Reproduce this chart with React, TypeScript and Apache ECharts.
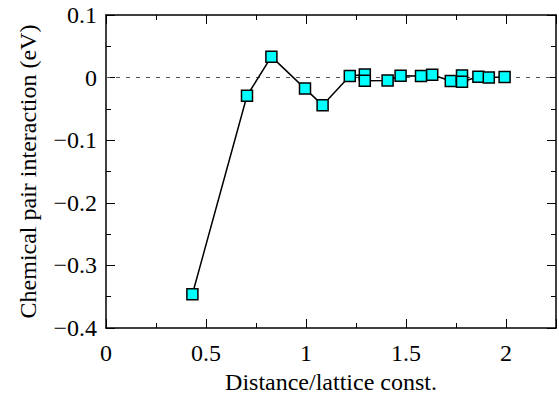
import React, { useEffect, useRef } from "react";
import * as echarts from "echarts";

const distances = [0.432, 0.705, 0.827, 0.995, 1.083, 1.219, 1.294, 1.294, 1.408, 1.473, 1.575, 1.631, 1.724, 1.78, 1.78, 1.862, 1.914, 1.993];
const interactions = [-0.346, -0.029, 0.0335, -0.0176, -0.044, 0.0024, 0.005, -0.005, -0.0045, 0.003, 0.0024, 0.0046, -0.0055, 0.0035, -0.0065, 0.0013, 0.0, 0.001];
const xTitle = "Distance/lattice const.";
const yTitle = "Chemical pair interaction (eV)";

const FONT = "'Liberation Serif', 'DejaVu Serif', serif";
const FS = 24;

export default function App() {
  const ref = useRef<HTMLDivElement>(null);
  useEffect(() => {
    if (!ref.current) return;
    const chart = echarts.init(ref.current, undefined, { renderer: "svg" });
    const tickCommon = () => ({
      axisLine: { show: true, onZero: false, lineStyle: { color: "#000", width: 1.5 } },
      axisTick: { show: true, inside: true, length: 9, lineStyle: { color: "#000", width: 1 } },
      minorTick: { show: true, splitNumber: 2, length: 5, lineStyle: { color: "#000", width: 1 } },
      splitLine: { show: false },
    });
    chart.setOption({
      animation: false,
      textStyle: { fontFamily: FONT, fontSize: FS, color: "#000" },
      grid: { left: 106, top: 15, right: 2, bottom: 69, containLabel: false },
      xAxis: [
        {
          type: "value",
          min: 0,
          max: 2.25,
          interval: 0.5,
          position: "bottom",
          name: xTitle,
          nameLocation: "middle",
          nameGap: 42,
          nameTextStyle: { fontFamily: FONT, fontSize: FS, color: "#000" },
          axisLabel: {
            fontFamily: FONT,
            fontSize: FS,
            color: "#000",
            margin: 13,
            formatter: (v: number) => (v > 2.2 ? "" : String(v)),
          },
          ...tickCommon(),
        },
        {
          type: "value",
          min: 0,
          max: 2.25,
          interval: 0.5,
          position: "top",
          axisLabel: { show: false },
          ...tickCommon(),
        },
      ],
      yAxis: [
        {
          type: "value",
          min: -0.4,
          max: 0.1,
          interval: 0.1,
          position: "left",
          name: yTitle,
          nameLocation: "middle",
          nameGap: 66,
          nameTextStyle: { fontFamily: FONT, fontSize: FS, color: "#000" },
          axisLabel: {
            fontFamily: FONT,
            fontSize: FS,
            color: "#000",
            margin: 9,
            formatter: (v: number) => {
              const r = Math.round(v * 10) / 10;
              if (r === 0) return "0";
              return r < 0 ? "\u2212" + String(-r) : String(r);
            },
          },
          ...tickCommon(),
        },
        {
          type: "value",
          min: -0.4,
          max: 0.1,
          interval: 0.1,
          position: "right",
          axisLabel: { show: false },
          ...tickCommon(),
        },
      ],
      series: [
        {
          type: "line",
          data: distances.map((d, i) => [d, interactions[i]]),
          symbol: "rect",
          symbolSize: 11,
          showAllSymbol: true,
          lineStyle: { color: "#000", width: 1.5 },
          itemStyle: { color: "#00FFFF", borderColor: "#000", borderWidth: 1.5 },
          z: 3,
          markLine: {
            silent: true,
            symbol: ["none", "none"],
            label: { show: false },
            lineStyle: { color: "#555", type: [4, 6], width: 1 },
            data: [{ yAxis: 0 }],
            z: 1,
          },
        },
      ],
    });
    return () => chart.dispose();
  }, []);
  return <div ref={ref} style={{ width: 559, height: 399, position: "absolute", left: 0, top: 0 }} />;
}
